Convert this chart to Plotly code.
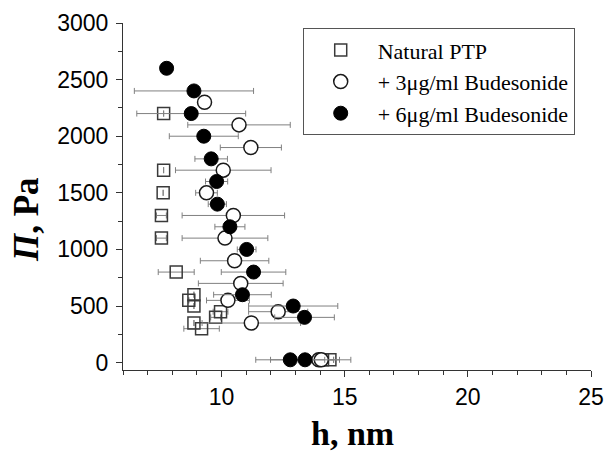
import plotly.graph_objects as go

# Natural PTP (open squares)
ptp_h = [7.65, 7.65, 7.63, 7.56, 7.56, 8.16, 8.88, 8.67, 8.88, 9.96, 9.76, 8.88, 9.19, 14.1, 14.4]
ptp_p = [2200, 1700, 1500, 1300, 1100, 800, 600, 550, 500, 450, 400, 350, 300, 25, 25]
ptp_err = [None, None, None, 0.2, 0.2, 0.73, None, None, None, 0.3, 0.2, None, 0.72, 0.15, 0.15]

# + 3 µg/ml Budesonide (open circles)
b3_h = [9.31, 10.71, 11.19, 10.07, 9.39, 10.48, 10.14, 10.53, 10.78, 10.26, 12.3, 11.21, 13.95, 14.05]
b3_p = [2300, 2100, 1900, 1700, 1500, 1300, 1100, 900, 700, 550, 450, 350, 25, 25]
b3_err = [None, 2.08, 1.24, 1.94, 0.44, 2.08, 1.74, 1.39, 1.72, 0.87, 1.2, 2.0, 1.3, 0.5]

# + 6 µg/ml Budesonide (filled circles)
b6_h = [7.77, 8.88, 8.77, 9.28, 9.58, 9.8, 9.83, 10.34, 11.02, 11.3, 10.85, 12.91, 13.37, 12.79, 13.39]
b6_p = [2600, 2400, 2200, 2000, 1800, 1600, 1400, 1200, 1000, 800, 600, 500, 400, 25, 25]
b6_err = [None, 2.42, 2.21, 1.4, 0.66, 0.45, 0.37, 0.61, 0.38, 1.31, 1.17, 1.81, 1.21, 1.4, 1.4]

names = ["Natural PTP", "+ 3μg/ml Budesonide", "+ 6μg/ml Budesonide"]
x_title = "<b>h, nm</b>"
y_title = "<b><i>Π</i>, Pa</b>"

err_style = dict(type="data", visible=True, color="#808080", thickness=1, width=3)

fig = go.Figure()
fig.add_trace(go.Scatter(
    x=ptp_h, y=ptp_p, mode="markers", name=names[0],
    error_x=dict(array=ptp_err, **err_style),
    marker=dict(symbol="square-open", size=12, color="#3a3a3a", line=dict(width=1.5, color="#3a3a3a")),
))
fig.add_trace(go.Scatter(
    x=b3_h, y=b3_p, mode="markers", name=names[1],
    error_x=dict(array=b3_err, **err_style),
    marker=dict(symbol="circle", size=14, color="white", line=dict(width=1.5, color="#1a1a1a")),
))
fig.add_trace(go.Scatter(
    x=b6_h, y=b6_p, mode="markers", name=names[2],
    error_x=dict(array=b6_err, **err_style),
    marker=dict(symbol="circle", size=14, color="black", line=dict(width=1, color="black")),
))

axis_common = dict(
    showline=True, linecolor="#333333", linewidth=1.2, mirror=False,
    showgrid=False, zeroline=False, automargin=False,
    ticks="outside", ticklen=6, tickwidth=1.2, tickcolor="#333333",
    tickfont=dict(family="Liberation Sans, Arial", size=23, color="black"),
)

fig.update_layout(
    template="none",
    width=606, height=452,
    margin=dict(l=123, r=15, t=23, b=82),
    paper_bgcolor="white", plot_bgcolor="white",
    xaxis=dict(
        range=[6, 25], tick0=0, dtick=5,
        minor=dict(dtick=1, ticks="outside", ticklen=3.5, tickwidth=1, tickcolor="#333333"),
        **axis_common,
    ),
    yaxis=dict(
        range=[-65, 3000], tick0=0, dtick=500,
        minor=dict(dtick=250, ticks="outside", ticklen=3.5, tickwidth=1, tickcolor="#333333"),
        ticklabelstandoff=3,
        **axis_common,
    ),
    legend=dict(
        x=0.384, y=0.985, xanchor="left", yanchor="top",
        bordercolor="#555555", borderwidth=1, bgcolor="white",
        font=dict(family="Liberation Serif, Times New Roman", size=22, color="black"),
        itemwidth=64, tracegroupgap=0,
    ),
    showlegend=True,
    annotations=[
        dict(text=x_title, xref="paper", yref="paper", x=(352 - 123) / 468, y=(370 - 433) / 347,
             xanchor="center", yanchor="middle", showarrow=False,
             font=dict(family="Liberation Serif, Times New Roman", size=34, color="black")),
        dict(text=y_title, xref="paper", yref="paper", x=(26 - 123) / 468, y=1 - (220 - 23) / 347,
             xanchor="center", yanchor="middle", showarrow=False, textangle=-90,
             font=dict(family="Liberation Serif, Times New Roman", size=35, color="black")),
    ],
)

fig.write_html("out.html", config={"displayModeBar": False},
               post_script="document.body.style.margin='0';document.body.style.overflow='hidden';")
